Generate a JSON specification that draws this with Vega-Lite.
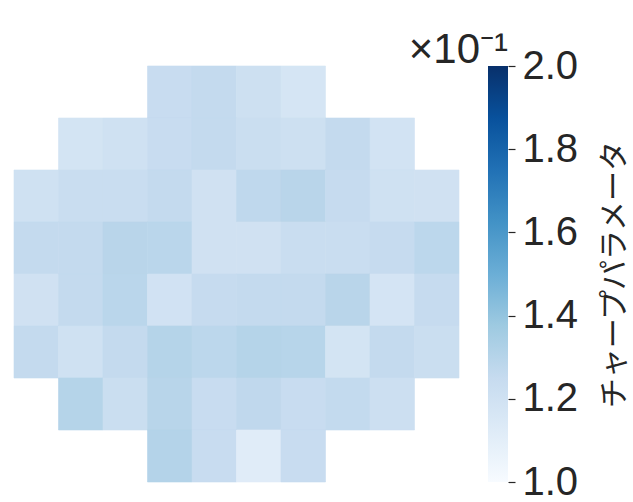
{
  "$schema": "https://vega.github.io/schema/vega-lite/v6.json",
  "background": "white",
  "padding": {"left": 13, "top": 29, "right": 0, "bottom": 0},
  "bounds": "flush",
  "config": {"view": {"stroke": null}, "font": "Liberation Sans"},
  "spacing": 29,
  "hconcat": [
    {
      "width": 445,
      "height": 416,
      "data": {"values": [
        {"row": 0, "col": 3, "value": 0.124}, {"row": 0, "col": 4, "value": 0.1256}, {"row": 0, "col": 5, "value": 0.1214}, {"row": 0, "col": 6, "value": 0.1172},
        {"row": 1, "col": 1, "value": 0.118}, {"row": 1, "col": 2, "value": 0.1203}, {"row": 1, "col": 3, "value": 0.124}, {"row": 1, "col": 4, "value": 0.1256}, {"row": 1, "col": 5, "value": 0.1229}, {"row": 1, "col": 6, "value": 0.1214}, {"row": 1, "col": 7, "value": 0.1256}, {"row": 1, "col": 8, "value": 0.1187},
        {"row": 2, "col": 0, "value": 0.1203}, {"row": 2, "col": 1, "value": 0.1234}, {"row": 2, "col": 2, "value": 0.1234}, {"row": 2, "col": 3, "value": 0.1256}, {"row": 2, "col": 4, "value": 0.12}, {"row": 2, "col": 5, "value": 0.1272}, {"row": 2, "col": 6, "value": 0.1291}, {"row": 2, "col": 7, "value": 0.125}, {"row": 2, "col": 8, "value": 0.1203}, {"row": 2, "col": 9, "value": 0.12},
        {"row": 3, "col": 0, "value": 0.1256}, {"row": 3, "col": 1, "value": 0.1256}, {"row": 3, "col": 2, "value": 0.1291}, {"row": 3, "col": 3, "value": 0.1288}, {"row": 3, "col": 4, "value": 0.12}, {"row": 3, "col": 5, "value": 0.12}, {"row": 3, "col": 6, "value": 0.1234}, {"row": 3, "col": 7, "value": 0.1234}, {"row": 3, "col": 8, "value": 0.125}, {"row": 3, "col": 9, "value": 0.128},
        {"row": 4, "col": 0, "value": 0.12}, {"row": 4, "col": 1, "value": 0.1256}, {"row": 4, "col": 2, "value": 0.1288}, {"row": 4, "col": 3, "value": 0.1193}, {"row": 4, "col": 4, "value": 0.125}, {"row": 4, "col": 5, "value": 0.1256}, {"row": 4, "col": 6, "value": 0.1256}, {"row": 4, "col": 7, "value": 0.1291}, {"row": 4, "col": 8, "value": 0.1177}, {"row": 4, "col": 9, "value": 0.125},
        {"row": 5, "col": 0, "value": 0.1256}, {"row": 5, "col": 1, "value": 0.1203}, {"row": 5, "col": 2, "value": 0.1256}, {"row": 5, "col": 3, "value": 0.1303}, {"row": 5, "col": 4, "value": 0.128}, {"row": 5, "col": 5, "value": 0.1303}, {"row": 5, "col": 6, "value": 0.1297}, {"row": 5, "col": 7, "value": 0.118}, {"row": 5, "col": 8, "value": 0.1256}, {"row": 5, "col": 9, "value": 0.1229},
        {"row": 6, "col": 1, "value": 0.1303}, {"row": 6, "col": 2, "value": 0.1229}, {"row": 6, "col": 3, "value": 0.1294}, {"row": 6, "col": 4, "value": 0.124}, {"row": 6, "col": 5, "value": 0.1269}, {"row": 6, "col": 6, "value": 0.124}, {"row": 6, "col": 7, "value": 0.1259}, {"row": 6, "col": 8, "value": 0.1219},
        {"row": 7, "col": 3, "value": 0.1306}, {"row": 7, "col": 4, "value": 0.124}, {"row": 7, "col": 5, "value": 0.1115}, {"row": 7, "col": 6, "value": 0.124}
      ]},
      "mark": {"type": "rect", "strokeWidth": 0.6},
      "encoding": {
        "x": {"field": "col", "type": "ordinal", "axis": null, "scale": {"domain": [0,1,2,3,4,5,6,7,8,9], "paddingInner": 0, "paddingOuter": 0}},
        "y": {"field": "row", "type": "ordinal", "axis": null, "scale": {"domain": [0,1,2,3,4,5,6,7], "paddingInner": 0, "paddingOuter": 0}},
        "color": {
          "field": "value", "type": "quantitative", "legend": null,
          "scale": {
            "domain": [0.1, 0.1125, 0.125, 0.1375, 0.15, 0.1625, 0.175, 0.1875, 0.2],
            "range": ["#f7fbff", "#deebf7", "#c6dbef", "#9ecae1", "#6baed6", "#4292c6", "#2171b5", "#08519c", "#08306b"],
            "interpolate": "rgb"
          }
        },
        "stroke": {
          "field": "value", "type": "quantitative", "legend": null,
          "scale": {
            "domain": [0.1, 0.1125, 0.125, 0.1375, 0.15, 0.1625, 0.175, 0.1875, 0.2],
            "range": ["#f7fbff", "#deebf7", "#c6dbef", "#9ecae1", "#6baed6", "#4292c6", "#2171b5", "#08519c", "#08306b"],
            "interpolate": "rgb"
          }
        }
      }
    },
    {
      "width": 20,
      "height": 416,
      "title": {"text": "×10⁻¹", "anchor": "end", "frame": "group", "fontSize": 42, "font": "Liberation Sans", "fontWeight": "normal", "color": "#262626", "baseline": "alphabetic", "offset": -59},
      "data": {"values": [{"lo": 0.1, "hi": 0.2}]},
      "mark": {
        "type": "rect",
        "color": {
          "gradient": "linear", "x1": 0, "y1": 1, "x2": 0, "y2": 0,
          "stops": [
            {"offset": 0, "color": "#f7fbff"}, {"offset": 0.125, "color": "#deebf7"}, {"offset": 0.25, "color": "#c6dbef"},
            {"offset": 0.375, "color": "#9ecae1"}, {"offset": 0.5, "color": "#6baed6"}, {"offset": 0.625, "color": "#4292c6"},
            {"offset": 0.75, "color": "#2171b5"}, {"offset": 0.875, "color": "#08519c"}, {"offset": 1, "color": "#08306b"}
          ]
        }
      },
      "encoding": {
        "x": {"datum": 0, "type": "quantitative", "scale": {"domain": [0, 1]}, "axis": null},
        "x2": {"datum": 1},
        "y": {
          "field": "lo", "type": "quantitative",
          "scale": {"domain": [0.1, 0.2], "nice": false, "zero": false},
          "axis": {
            "orient": "right", "values": [0.1, 0.12, 0.14, 0.16, 0.18, 0.2],
            "labelExpr": "format(datum.value * 10, '.1f')",
            "domain": false, "grid": false,
            "tickSize": 7, "tickColor": "#262626", "tickWidth": 1.2,
            "labelFontSize": 40, "labelFont": "Liberation Sans", "labelColor": "#262626", "labelPadding": 7,
            "labelBaseline": "middle", "labelFlush": false, "labelOverlap": false,
            "title": "チャープパラメータ", "titleFont": "Noto Sans CJK JP", "titleFontSize": 30, "titleFontWeight": "normal",
            "titleColor": "#262626", "titleAngle": 270, "titleBaseline": "top", "titlePadding": 22
          }
        },
        "y2": {"field": "hi"}
      }
    }
  ]
}
